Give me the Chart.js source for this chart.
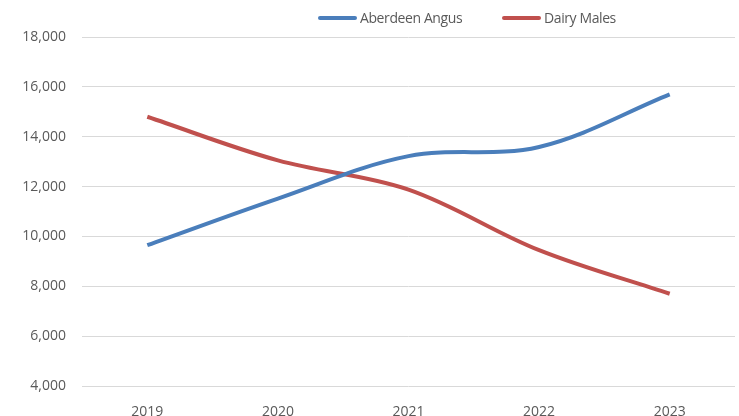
<!DOCTYPE html>
<html>
<head>
<meta charset="utf-8">
<script src="https://cdn.jsdelivr.net/npm/chart.js@4"></script>
<style>
  body { margin: 0; background: #fff; }
  #wrap { position: relative; width: 739px; height: 416px; }
  #legend {
    position: absolute; top: 8px; left: 0; width: 739px; height: 20px;
    font-family: "Open Sans", sans-serif; letter-spacing: -0.4px;
    font-size: 14px; color: #595959; white-space: nowrap;
  }
  .item { position: absolute; top: 0; display: flex; align-items: center; }
  .swatch { width: 39px; height: 4px; border-radius: 2px; margin-right: 3px; }
</style>
</head>
<body>
<div id="wrap">
  <canvas id="chart" width="739" height="416"></canvas>
  <div id="legend"></div>
</div>
<script>
// ============================
// Data
// ============================
const years = ["2019", "2020", "2021", "2022", "2023"];
const aberdeenAngus = [9650, 11520, 13220, 13590, 15700];
const dairyMales = [14800, 13050, 11880, 9450, 7700];
const yTicks = [4000, 6000, 8000, 10000, 12000, 14000, 16000, 18000];

const seriesColors = ["#4a7ebb", "#c0504d"];
const seriesNames = ["Aberdeen Angus", "Dairy Males"];
const legendLeft = [318, 502];

// ============================
// HTML legend
// ============================
const legendBox = document.getElementById("legend");
seriesNames.forEach(function (name, i) {
    const item = document.createElement("div");
    item.className = "item";
    item.style.left = legendLeft[i] + "px";
    item.innerHTML = '<span class="swatch" style="background:' + seriesColors[i] + '"></span>' + name;
    legendBox.appendChild(item);
});

// ============================
// Chart
// ============================
const labelFont = { family: "'Open Sans', sans-serif", size: 14 };

new Chart(document.getElementById("chart"), {
    type: "line",
    data: {
        labels: years,
        datasets: [
            {
                label: seriesNames[0],
                data: aberdeenAngus,
                borderColor: seriesColors[0],
                borderWidth: 4,
                pointRadius: 0,
                tension: 0.35,
                fill: false
            },
            {
                label: seriesNames[1],
                data: dairyMales,
                borderColor: seriesColors[1],
                borderWidth: 4,
                pointRadius: 0,
                tension: 0.35,
                fill: false
            }
        ]
    },
    options: {
        responsive: false,
        animation: false,
        layout: { padding: { top: 37, right: 4, bottom: 0, left: 0 } },
        plugins: {
            legend: { display: false },
            tooltip: { enabled: false }
        },
        scales: {
            x: {
                offset: true,
                grid: { display: false },
                border: { display: false },
                ticks: { color: "#595959", font: labelFont, padding: 10 },
                afterFit: function (scale) { scale.height = 30; }
            },
            y: {
                min: 4000,
                max: 18000,
                afterBuildTicks: function (scale) {
                    scale.ticks = yTicks.map(v => ({ value: v }));
                },
                grid: { color: "#d9d9d9", lineWidth: 1, drawTicks: false },
                border: { display: false },
                ticks: {
                    color: "#595959",
                    font: labelFont,
                    padding: 16,
                    callback: function (v) { return v.toLocaleString("en-US"); }
                },
                afterFit: function (scale) { scale.width = 82; }
            }
        }
    }
});
</script>
</body>
</html>
